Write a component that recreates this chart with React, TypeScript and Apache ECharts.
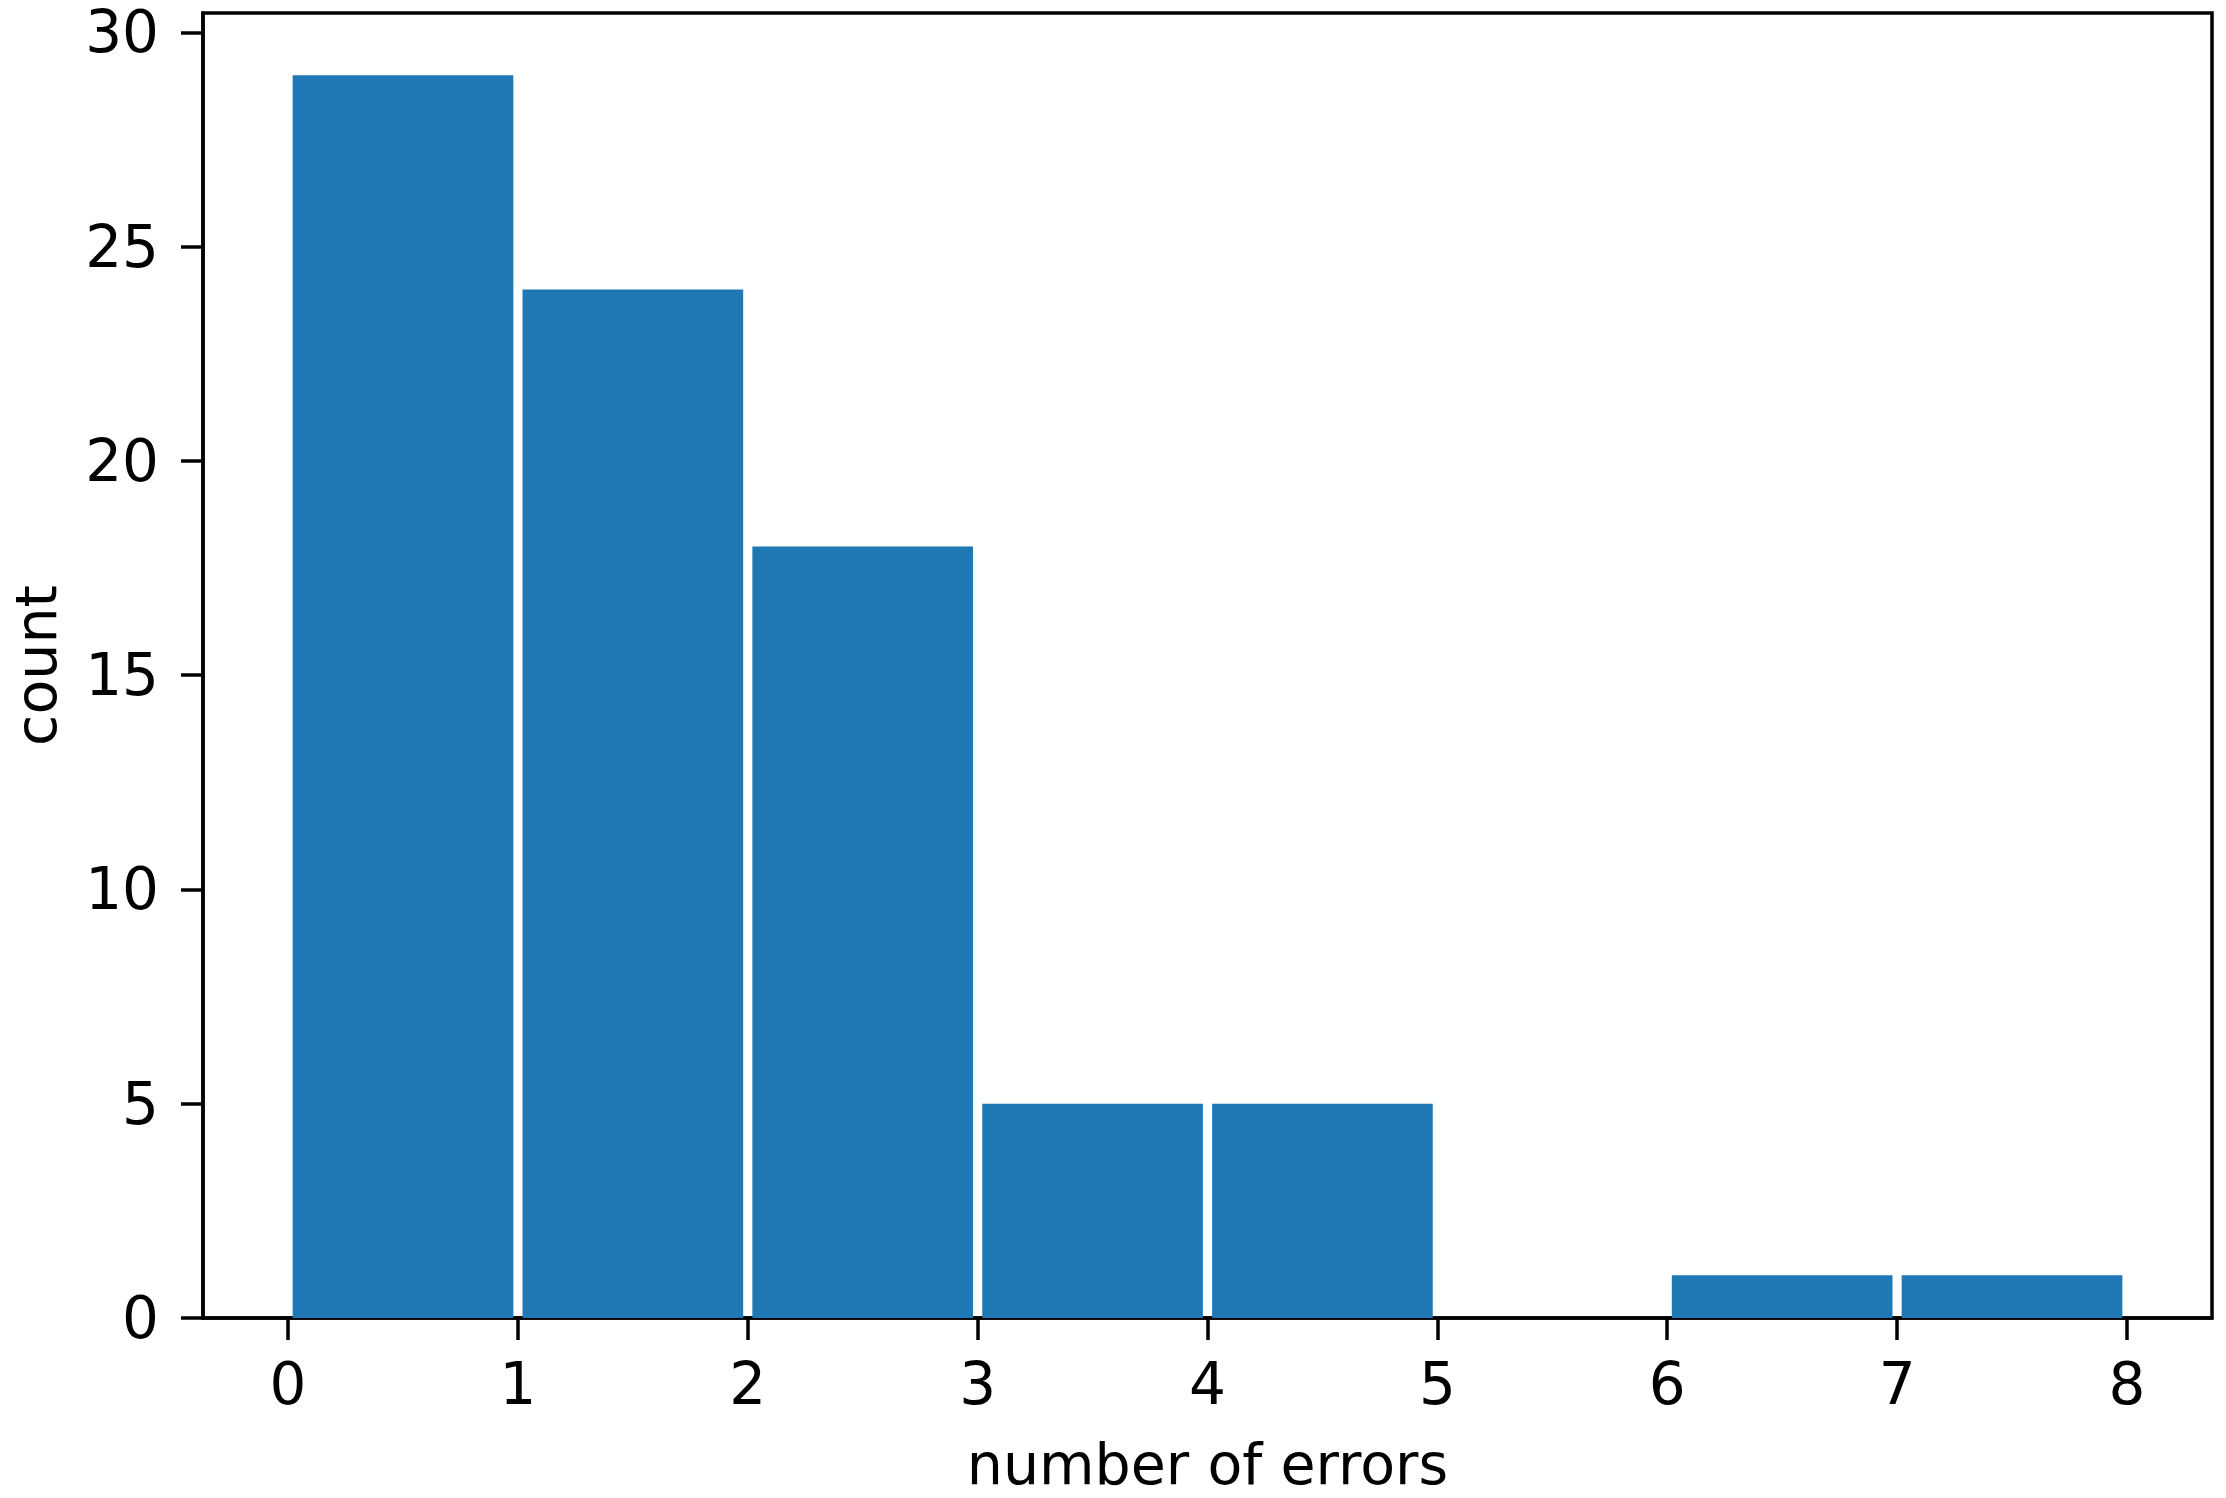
import React, { useEffect, useRef } from "react";
import * as echarts from "echarts";

const binStarts = [0, 1, 2, 3, 4, 5, 6, 7];
const binEnds = [1, 2, 3, 4, 5, 6, 7, 8];
const counts = [29, 24, 18, 5, 5, 0, 1, 1];
const xTicks = [0, 1, 2, 3, 4, 5, 6, 7, 8];
const yTicks = [0, 5, 10, 15, 20, 25, 30];
const xName = "number of errors";
const yName = "count";

export default function App() {
  const ref = useRef<HTMLDivElement>(null);
  useEffect(() => {
    if (!ref.current) return;
    const chart = echarts.init(ref.current, null, { renderer: "svg" });
    const data = binStarts.map((s, i) => [s, binEnds[i], counts[i]]);
    const font = "DejaVu Sans";
    chart.setOption({
      animation: false,
      backgroundColor: "#ffffff",
      grid: {
        left: 203,
        top: 13,
        right: 14,
        bottom: 180,
        containLabel: false,
        outerBoundsMode: "none",
        show: true,
        borderColor: "#000",
        borderWidth: 3.5,
        backgroundColor: "transparent",
      },
      xAxis: {
        type: "value",
        min: -0.37,
        max: 8.37,
        name: xName,
        nameLocation: "middle",
        nameGap: 117,
        nameTextStyle: { fontFamily: font, fontSize: 57, lineHeight: 57, color: "#000" },
        axisLine: { show: true, onZero: false, lineStyle: { color: "#000", width: 3.5 } },
        axisTick: {
          show: true,
          length: 22,
          customValues: xTicks,
          lineStyle: { color: "#000", width: 3.5 },
        },
        axisLabel: {
          customValues: xTicks,
          margin: 37,
          fontFamily: font,
          fontSize: 58,
          lineHeight: 58,
          color: "#000",
        },
        splitLine: { show: false },
      },
      yAxis: {
        type: "value",
        min: 0,
        max: 30.45,
        name: yName,
        nameLocation: "middle",
        nameGap: 139,
        nameTextStyle: { fontFamily: font, fontSize: 57, lineHeight: 57, color: "#000" },
        axisLine: { show: true, onZero: false, lineStyle: { color: "#000", width: 3.5 } },
        axisTick: {
          show: true,
          length: 22,
          customValues: yTicks,
          lineStyle: { color: "#000", width: 3.5 },
        },
        axisLabel: {
          customValues: yTicks,
          margin: 44,
          fontFamily: font,
          fontSize: 58,
          lineHeight: 58,
          color: "#000",
        },
        splitLine: { show: false },
      },
      series: [
        {
          type: "custom",
          data,
          encode: { x: [0, 1], y: 2 },
          renderItem: (params: any, api: any) => {
            const s = api.value(0) as number;
            const e = api.value(1) as number;
            const v = api.value(2) as number;
            if (!v) return null;
            const w = e - s;
            const p0 = api.coord([s + w * 0.02, v]);
            const p1 = api.coord([e - w * 0.02, 0]);
            return {
              type: "rect",
              shape: { x: p0[0], y: p0[1], width: p1[0] - p0[0], height: p1[1] - p0[1] },
              style: { fill: "#1f77b4" },
            };
          },
        },
      ],
    });
    return () => chart.dispose();
  }, []);
  return (
    <div
      ref={ref}
      style={{ position: "fixed", left: 0, top: 0, width: 2226, height: 1498, background: "#fff" }}
    />
  );
}
